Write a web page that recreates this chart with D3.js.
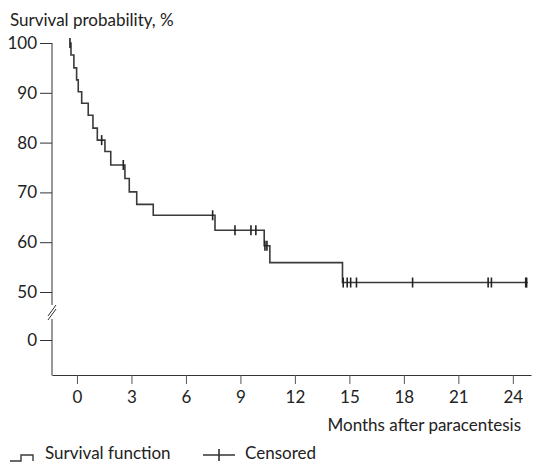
<!DOCTYPE html>
<html>
<head>
<meta charset="utf-8">
<script src="https://cdn.jsdelivr.net/npm/d3@7"></script>
<style>
  body { margin: 0; background: #fff; }
  text { font-family: Lato, "Open Sans", sans-serif; fill: #222; }
</style>
</head>
<body>
<div class="km"></div>
<script>
// survival curve (months, % after each drop)
const startTime = -0.385
const endTime = 24.82
const stepTimes = [-0.33, -0.17, -0.02, 0.07, 0.26, 0.62, 0.88, 1.12, 1.54, 1.86, 2.64, 2.88, 3.29, 4.20, 7.60, 10.31, 10.62, 14.62]
const stepLevels = [97.6, 95.0, 92.6, 90.2, 87.9, 85.5, 82.9, 80.5, 78.2, 75.5, 72.8, 70.1, 67.6, 65.4, 62.4, 59.3, 55.9, 51.9]
const censorTimes = [-0.385, 1.36, 2.55, 7.47, 8.70, 9.58, 9.85, 10.35, 10.46, 14.66, 14.88, 15.07, 15.39, 18.48, 22.64, 22.82, 24.71, 24.76]
const xTicks = [0, 3, 6, 9, 12, 15, 18, 21, 24]
const yTicks = [0, 50, 60, 70, 80, 90, 100]

const W = 534, H = 463
const fs = "17px"

const svg = d3.select(".km").append("svg").attr("width", W).attr("height", H)

const x = d3.scaleLinear().domain([-1.375, 25]).range([52, 531])
// broken axis: 0 sits below the break, 50-100 linear above
const y = d3.scaleLinear().domain([0, 50, 100]).range([340, 292, 43])

const levelAt = t => {
  const i = d3.bisectRight(stepTimes, t)
  return i === 0 ? 100 : stepLevels[i - 1]
}

// x axis
const xAxis = svg.append("g").attr("transform", "translate(0,375)")
  .call(d3.axisBottom(x).tickValues(xTicks).tickSize(9).tickPadding(7).tickSizeOuter(0))
xAxis.select(".domain").attr("stroke", "#333")
xAxis.selectAll(".tick line").attr("stroke", "#555")
xAxis.selectAll("text").style("font-size", fs).style("fill", "#222").attr("font-family", null)

// y axis (ticks only, the spine is drawn by hand for the break)
const yAxis = svg.append("g").attr("transform", "translate(52,0)")
  .call(d3.axisLeft(y).tickValues(yTicks).tickSize(12).tickPadding(3))
yAxis.select(".domain").remove()
yAxis.selectAll(".tick line").attr("stroke", "#333")
yAxis.selectAll("text").style("font-size", fs).style("fill", "#222").attr("font-family", null)

svg.append("line").attr("x1", 52).attr("x2", 52).attr("y1", 43).attr("y2", 305).attr("stroke", "#333")
svg.append("line").attr("x1", 52).attr("x2", 52).attr("y1", 319).attr("y2", 375.5).attr("stroke", "#333")
svg.selectAll(".brk").data([0, 4]).enter().append("line")
  .attr("x1", 48).attr("x2", 56).attr("y1", d => 316 + d).attr("y2", d => 305 + d)
  .attr("stroke", "#333").attr("stroke-width", 1)

// survival step line
const pts = [[startTime, 100]].concat(stepTimes.map((t, i) => [t, stepLevels[i]]), [[endTime, stepLevels[stepLevels.length - 1]]])
const line = d3.line().x(d => x(d[0])).y(d => y(d[1])).curve(d3.curveStepAfter)
svg.append("path").datum(pts).attr("d", line)
  .attr("fill", "none").attr("stroke", "#3a3a3a").attr("stroke-width", 1.6)

// censor marks
svg.selectAll(".cens").data(censorTimes).enter().append("line")
  .attr("x1", d => x(d)).attr("x2", d => x(d))
  .attr("y1", d => y(levelAt(d)) - 5).attr("y2", d => y(levelAt(d)) + 5)
  .attr("stroke", "#222").attr("stroke-width", 1.6)

// titles
svg.append("text").attr("x", 10).attr("y", 26).style("font-size", fs).text("Survival probability, %")
svg.append("text").attr("x", 521).attr("y", 431).attr("text-anchor", "end").style("font-size", fs).text("Months after paracentesis")

// legend
svg.append("path").attr("d", "M10,461H21V455H33V461").attr("fill", "none").attr("stroke", "#3a3a3a").attr("stroke-width", 1.4)
svg.append("text").attr("x", 45).attr("y", 459).style("font-size", fs).text("Survival function")
svg.append("line").attr("x1", 203).attr("x2", 235).attr("y1", 455).attr("y2", 455).attr("stroke", "#666").attr("stroke-width", 2)
svg.append("line").attr("x1", 219).attr("x2", 219).attr("y1", 449).attr("y2", 461).attr("stroke", "#333").attr("stroke-width", 1.6)
svg.append("text").attr("x", 245).attr("y", 459).style("font-size", fs).text("Censored")
</script>
</body>
</html>
